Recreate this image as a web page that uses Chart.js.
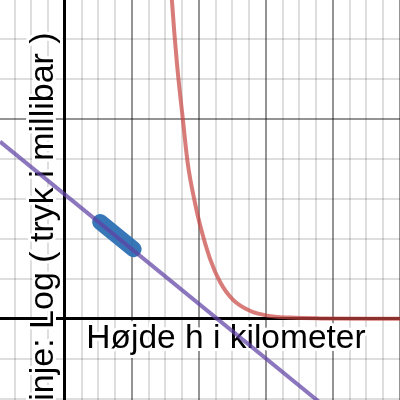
<!DOCTYPE html>
<html>
<head>
<meta charset="utf-8">
<script src="https://cdn.jsdelivr.net/npm/chart.js@4/dist/chart.umd.min.js"></script>
<style>
  html, body { margin: 0; padding: 0; background: #fff; }
  #wrap { width: 400px; height: 400px; }
</style>
</head>
<body>
<div id="wrap"><canvas id="c" width="400" height="400"></canvas></div>
<script>
// Axis labels (Danish)
const xLabel = "Højde h i kilometer";
const yLabel = "Linje: Log ( tryk i millibar )";

// Grid ticks
const xTicks = [-15, -10, -5, 0, 5, 10, 15, 20, 25, 30, 35, 40, 45, 50, 55, 60, 65, 70, 75, 80, 85, 90, 95, 100];
const yTicks = [-2, -1, 0, 1, 2, 3, 4, 5, 6, 7];

// Red curve: pressure (millibar) vs height (km)
const pressureH = [31.3, 31.9, 33.4, 35.1, 36.7, 38.8, 40.3, 43.3, 46.3, 50.1, 55.2, 60.3, 67.2, 76.1, 100];
const pressureP = [8.8, 7.98, 6.4, 5.05, 3.85, 2.9, 2.35, 1.5, 0.92, 0.48, 0.2, 0.08, 0.03, 0.01, 0.0];

// Purple line: log(pressure) vs height
const logLineH = [-19.4, 80];
const logLineV = [4.43, -2.36];

// Blue thick segment: measured log values
const measH = [10.5, 20.5];
const measV = [2.42, 1.74];

const toXY = (xs, ys) => xs.map((x, i) => ({ x: x, y: ys[i] }));

const labelPlugin = {
  id: 'axisLabels',
  beforeDatasetsDraw(chart) {
    const ctx = chart.ctx;
    ctx.save();
    ctx.lineJoin = 'round';
    ctx.lineWidth = 6;
    ctx.strokeStyle = '#ffffff';
    ctx.fillStyle = '#000000';
    ctx.textAlign = 'center';
    ctx.textBaseline = 'alphabetic';
    ctx.font = '33.5px "Liberation Sans", Arial, sans-serif';
    ctx.strokeText(xLabel, 226, 348);
    ctx.fillText(xLabel, 226, 348);
    ctx.font = '34px "Liberation Sans", Arial, sans-serif';
    ctx.translate(53, 226);
    ctx.rotate(-Math.PI / 2);
    ctx.strokeText(yLabel, 0, 0);
    ctx.fillText(yLabel, 0, 0);
    ctx.restore();
  }
};

function gridColor(major) {
  return (c) => {
    const v = c.tick ? c.tick.value : null;
    if (v === 0) return '#000000';
    if (v !== null && v % major === 0) return 'rgba(0,0,0,0.42)';
    return 'rgba(0,0,0,0.13)';
  };
}
function gridWidth(major) {
  return (c) => {
    const v = c.tick ? c.tick.value : null;
    if (v === 0) return 3;
    return 2;
  };
}

new Chart(document.getElementById('c'), {
  type: 'line',
  data: {
    datasets: [
      {
        label: 'log',
        data: toXY(logLineH, logLineV),
        borderColor: 'rgba(96,66,166,0.72)',
        borderWidth: 4,
        pointRadius: 0,
        order: 0
      },
      {
        label: 'meas',
        data: toXY(measH, measV),
        borderColor: 'rgba(45,112,179,0.95)',
        borderWidth: 16,
        borderCapStyle: 'round',
        pointRadius: 0,
        order: 1
      },
      {
        label: 'pressure',
        data: toXY(pressureH, pressureP),
        borderColor: 'rgba(199,68,64,0.7)',
        borderWidth: 4,
        pointRadius: 0,
        cubicInterpolationMode: 'monotone',
        order: 2
      }
    ]
  },
  options: {
    responsive: false,
    animation: false,
    devicePixelRatio: 1,
    layout: { padding: 0 },
    plugins: { legend: { display: false }, tooltip: { enabled: false } },
    scales: {
      x: {
        type: 'linear',
        min: -19.4,
        max: 100,
        afterBuildTicks: (s) => { s.ticks = xTicks.map(v => ({ value: v })); },
        afterFit: (s) => { s.height = 0; },
        ticks: { display: false },
        border: { display: false },
        grid: { drawTicks: false, color: gridColor(20), lineWidth: gridWidth(20) }
      },
      y: {
        type: 'linear',
        min: -2.03,
        max: 7.97,
        afterBuildTicks: (s) => { s.ticks = yTicks.map(v => ({ value: v })); },
        afterFit: (s) => { s.width = 0; },
        ticks: { display: false },
        border: { display: false },
        grid: { drawTicks: false, color: gridColor(5), lineWidth: gridWidth(5) }
      }
    }
  },
  plugins: [labelPlugin]
});
</script>
</body>
</html>
